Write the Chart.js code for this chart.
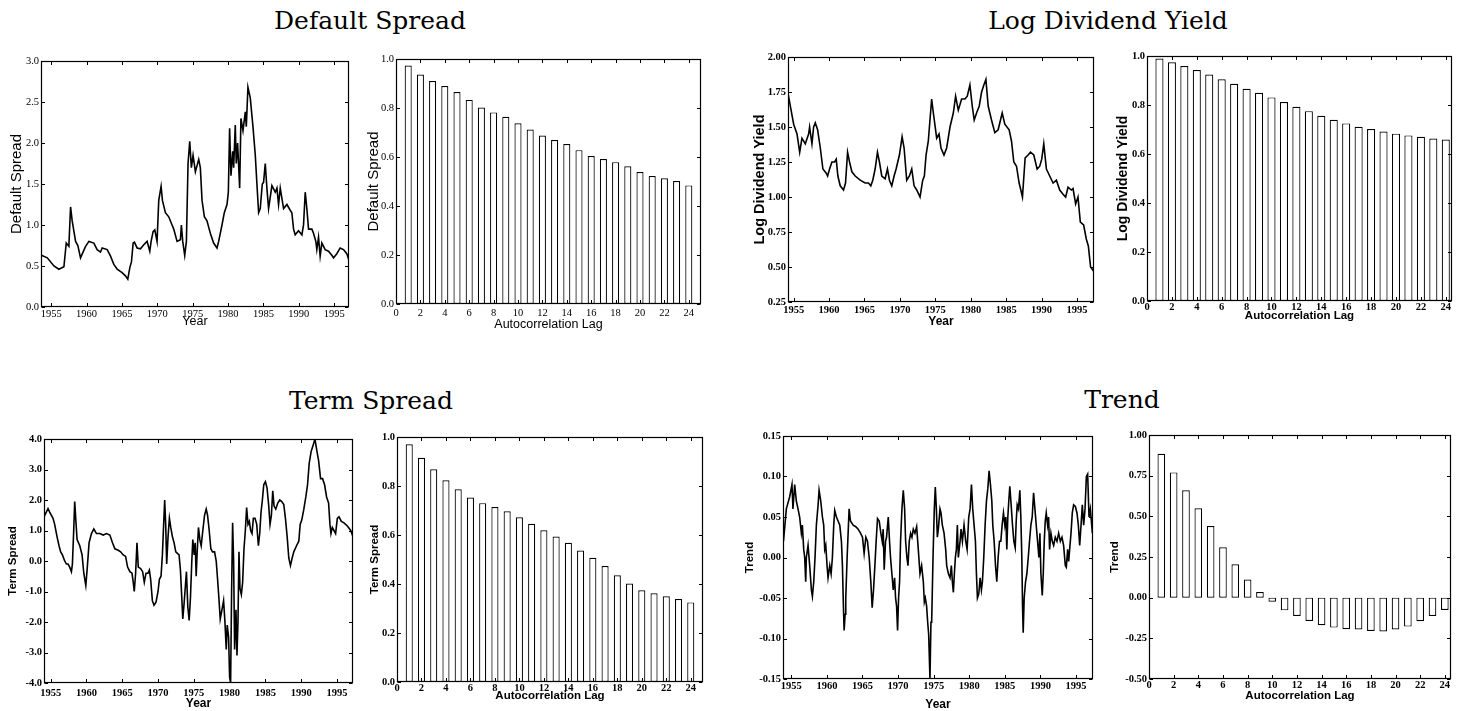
<!DOCTYPE html>
<html><head><meta charset="utf-8">
<script src="https://cdn.jsdelivr.net/npm/chart.js@4/dist/chart.umd.min.js"></script>
<style>
html,body{margin:0;padding:0;background:#fff;width:1460px;height:711px;overflow:hidden;position:relative;}
canvas{position:absolute;}
.ttl{position:absolute;font-family:"DejaVu Serif",serif;font-size:25px;color:#000;transform:translate(-50%,-50%);white-space:nowrap;line-height:1;}
</style></head><body>
<div class="ttl" style="left:370px;top:20px">Default Spread</div>
<div class="ttl" style="left:1108px;top:20px">Log Dividend Yield</div>
<div class="ttl" style="left:371px;top:400px">Term Spread</div>
<div class="ttl" style="left:1122px;top:399px">Trend</div>
<script>
// ---------- DATA ----------
const yearTicks = [1955,1960,1965,1970,1975,1980,1985,1990,1995];
const yearLabels = ['1955','1960','1965','1970','1975','1980','1985','1990','1995'];
const lagTicks = [0,2,4,6,8,10,12,14,16,18,20,22,24];
const lagLabels = ['0','2','4','6','8','10','12','14','16','18','20','22','24'];
const lags = [1,2,3,4,5,6,7,8,9,10,11,12,13,14,15,16,17,18,19,20,21,22,23,24];

const dsYTicks = [0,0.5,1,1.5,2,2.5,3];
const dsYLabels = ['0.0','0.5','1.0','1.5','2.0','2.5','3.0'];
const acfYTicks = [0,0.2,0.4,0.6,0.8,1.0];
const acfYLabels = ['0.0','0.2','0.4','0.6','0.8','1.0'];
const ldyYTicks = [0.25,0.5,0.75,1,1.25,1.5,1.75,2];
const ldyYLabels = ['0.25','0.50','0.75','1.00','1.25','1.50','1.75','2.00'];
const tsYTicks = [-4,-3,-2,-1,0,1,2,3,4];
const tsYLabels = ['-4.0','-3.0','-2.0','-1.0','0.0','1.0','2.0','3.0','4.0'];
const trYTicks = [-0.15,-0.1,-0.05,0,0.05,0.1,0.15];
const trYLabels = ['-0.15','-0.10','-0.05','0.00','0.05','0.10','0.15'];
const trAcfYTicks = [-0.5,-0.25,0,0.25,0.5,0.75,1];
const trAcfYLabels = ['-0.50','-0.25','0.00','0.25','0.50','0.75','1.00'];

const defaultSpreadSeries = [[1953.6,0.63],[1954.44,0.60],[1955.38,0.50],[1956.08,0.46],[1956.79,0.49],[1957.12,0.78],[1957.49,0.74],[1957.73,1.22],[1957.96,1.05],[1958.44,0.80],[1958.76,0.75],[1959.14,0.60],[1959.85,0.74],[1960.32,0.80],[1961.02,0.78],[1961.49,0.70],[1961.96,0.67],[1962.2,0.72],[1962.91,0.70],[1963.38,0.62],[1963.85,0.52],[1964.32,0.46],[1965.02,0.42],[1965.49,0.38],[1965.82,0.34],[1966.11,0.48],[1966.34,0.55],[1966.58,0.78],[1966.76,0.79],[1967.14,0.72],[1967.61,0.71],[1968.08,0.76],[1968.55,0.80],[1968.93,0.68],[1969.12,0.80],[1969.4,0.92],[1969.64,0.94],[1969.96,0.80],[1970.2,1.30],[1970.53,1.47],[1970.72,1.30],[1971.14,1.15],[1971.61,1.10],[1972.08,1.00],[1972.32,0.95],[1972.79,0.80],[1973.26,0.82],[1973.4,1.00],[1973.59,0.80],[1973.87,0.63],[1974.11,0.80],[1974.34,1.75],[1974.58,2.02],[1974.81,1.70],[1975.05,1.85],[1975.38,1.65],[1975.85,1.80],[1976.08,1.70],[1976.32,1.30],[1976.65,1.10],[1977.02,1.05],[1977.49,0.90],[1977.96,0.78],[1978.44,0.72],[1978.67,0.80],[1979.14,1.00],[1979.47,1.15],[1979.85,1.25],[1980.04,1.40],[1980.22,2.18],[1980.41,1.60],[1980.65,1.90],[1980.79,1.70],[1981.02,2.22],[1981.16,1.75],[1981.35,2.00],[1981.64,1.45],[1981.82,2.30],[1982.11,2.15],[1982.44,2.38],[1982.58,2.20],[1982.81,2.68],[1983.14,2.55],[1983.52,2.20],[1983.85,1.85],[1984.08,1.50],[1984.32,1.15],[1984.55,1.20],[1984.84,1.50],[1985.02,1.52],[1985.26,1.75],[1985.49,1.45],[1985.73,1.20],[1986.2,1.48],[1986.67,1.40],[1986.91,1.45],[1987.14,1.25],[1987.38,1.45],[1987.85,1.20],[1988.32,1.25],[1988.79,1.18],[1989.02,1.15],[1989.26,0.95],[1989.49,0.88],[1989.96,0.93],[1990.44,0.88],[1990.67,1.00],[1990.91,1.40],[1991.14,1.20],[1991.38,0.95],[1991.85,0.95],[1992.08,0.90],[1992.41,0.80],[1992.55,0.70],[1992.79,0.85],[1993.02,0.62],[1993.26,0.78],[1993.73,0.70],[1994.2,0.68],[1994.67,0.63],[1994.91,0.60],[1995.38,0.65],[1995.85,0.72],[1996.32,0.70],[1996.79,0.65],[1997.1,0.57]];

const logDividendYieldSeries = [[1954.2,1.74],[1955.0,1.52],[1955.47,1.45],[1955.85,1.32],[1956.17,1.42],[1956.64,1.38],[1957.11,1.45],[1957.25,1.50],[1957.58,1.38],[1957.82,1.50],[1958.05,1.53],[1958.38,1.48],[1958.76,1.35],[1959.13,1.20],[1959.6,1.17],[1959.79,1.15],[1960.07,1.20],[1960.4,1.25],[1960.77,1.25],[1961.01,1.27],[1961.24,1.15],[1961.57,1.08],[1962.04,1.05],[1962.32,1.10],[1962.61,1.32],[1962.89,1.25],[1963.22,1.18],[1963.69,1.15],[1964.39,1.12],[1965.09,1.10],[1965.56,1.10],[1965.89,1.08],[1966.17,1.12],[1966.5,1.20],[1966.83,1.32],[1967.11,1.25],[1967.44,1.15],[1967.91,1.13],[1968.24,1.20],[1968.52,1.12],[1968.85,1.08],[1969.18,1.15],[1969.46,1.20],[1969.93,1.30],[1970.31,1.43],[1970.59,1.35],[1970.96,1.12],[1971.34,1.15],[1971.67,1.20],[1972.0,1.08],[1972.37,1.05],[1972.84,1.00],[1973.22,1.12],[1973.45,1.15],[1973.69,1.30],[1974.01,1.40],[1974.48,1.70],[1974.72,1.60],[1975.19,1.42],[1975.52,1.45],[1975.8,1.35],[1976.22,1.30],[1976.6,1.35],[1977.07,1.50],[1977.54,1.60],[1977.86,1.72],[1978.24,1.62],[1978.71,1.70],[1979.18,1.70],[1979.51,1.72],[1979.88,1.80],[1980.21,1.65],[1980.49,1.55],[1980.82,1.60],[1981.2,1.65],[1981.53,1.75],[1981.85,1.80],[1982.14,1.84],[1982.46,1.65],[1982.93,1.55],[1983.4,1.46],[1983.87,1.48],[1984.2,1.55],[1984.44,1.60],[1984.81,1.52],[1985.42,1.48],[1985.75,1.40],[1986.08,1.25],[1986.46,1.22],[1986.83,1.10],[1987.07,1.05],[1987.3,1.00],[1987.68,1.28],[1988.1,1.30],[1988.43,1.32],[1988.9,1.30],[1989.37,1.20],[1989.74,1.22],[1990.02,1.27],[1990.31,1.38],[1990.68,1.20],[1991.15,1.15],[1991.62,1.10],[1992.09,1.12],[1992.56,1.05],[1993.03,1.02],[1993.4,1.00],[1993.73,1.07],[1994.2,1.05],[1994.44,1.06],[1994.81,0.95],[1995.14,1.00],[1995.47,0.82],[1995.94,0.80],[1996.31,0.70],[1996.6,0.65],[1996.92,0.50],[1997.35,0.47]];

const termSpreadSeries = [[1954.07,1.45],[1954.63,1.72],[1954.86,1.60],[1955.33,1.40],[1955.56,1.20],[1955.89,0.80],[1956.17,0.50],[1956.40,0.30],[1956.64,0.20],[1956.96,0.00],[1957.20,-0.10],[1957.43,-0.10],[1957.66,-0.20],[1957.90,-0.35],[1958.04,-0.10],[1958.22,1.00],[1958.36,1.95],[1958.50,1.40],[1958.69,0.70],[1959.07,0.50],[1959.39,0.20],[1959.63,-0.40],[1959.91,-0.80],[1960.09,-0.30],[1960.37,0.60],[1960.70,0.90],[1961.03,1.05],[1961.40,0.90],[1961.87,0.90],[1962.34,0.85],[1962.80,0.90],[1963.27,0.85],[1963.64,0.60],[1963.97,0.40],[1964.44,0.35],[1964.77,0.30],[1965.14,0.20],[1965.47,0.15],[1965.75,-0.20],[1966.07,-0.35],[1966.36,-0.40],[1966.54,-0.70],[1966.68,-1.00],[1966.87,-0.40],[1967.06,0.60],[1967.24,-0.20],[1967.57,-0.25],[1967.85,-0.35],[1968.08,-0.70],[1968.32,-0.40],[1968.60,-0.40],[1968.79,-0.30],[1968.97,-0.60],[1969.21,-1.30],[1969.44,-1.45],[1969.72,-1.35],[1970.00,-1.00],[1970.19,-0.60],[1970.42,-0.50],[1970.61,0.20],[1970.75,1.00],[1970.93,2.00],[1971.07,1.20],[1971.21,-0.10],[1971.40,0.80],[1971.59,1.40],[1971.78,1.10],[1972.01,0.80],[1972.24,0.60],[1972.48,0.30],[1972.71,0.25],[1972.94,0.20],[1973.13,-0.30],[1973.32,-1.20],[1973.46,-1.90],[1973.64,-1.40],[1973.83,-0.80],[1973.97,-0.35],[1974.16,-1.50],[1974.35,-1.95],[1974.53,-1.20],[1974.72,0.00],[1974.86,0.70],[1975.05,0.20],[1975.19,0.60],[1975.33,-0.50],[1975.47,0.30],[1975.65,1.10],[1975.84,0.70],[1976.03,0.50],[1976.26,1.00],[1976.50,1.50],[1976.73,1.70],[1976.92,1.50],[1977.15,1.00],[1977.38,0.40],[1977.62,0.30],[1977.90,0.30],[1978.13,0.00],[1978.32,-0.60],[1978.50,-1.20],[1978.69,-1.90],[1978.93,-1.60],[1979.16,-1.30],[1979.35,-2.00],[1979.53,-2.90],[1979.67,-2.10],[1979.86,-2.50],[1980.00,-3.80],[1980.14,-4.00],[1980.28,-1.00],[1980.42,1.25],[1980.56,0.00],[1980.70,-2.90],[1980.89,-1.60],[1981.03,-3.10],[1981.17,-2.00],[1981.31,0.30],[1981.45,-0.90],[1981.64,-1.10],[1981.82,-0.70],[1982.01,0.40],[1982.20,1.00],[1982.38,1.75],[1982.57,1.20],[1982.76,1.30],[1982.94,1.00],[1983.13,0.90],[1983.32,1.40],[1983.55,1.40],[1983.79,1.20],[1984.02,0.50],[1984.21,0.90],[1984.39,1.60],[1984.58,2.00],[1984.77,2.50],[1985.00,2.60],[1985.23,2.40],[1985.47,1.80],[1985.65,1.20],[1985.84,1.50],[1986.03,2.30],[1986.21,1.80],[1986.45,1.70],[1986.73,1.90],[1987.01,2.00],[1987.29,1.95],[1987.57,1.85],[1987.80,1.40],[1988.04,0.80],[1988.27,0.10],[1988.50,-0.15],[1988.74,0.10],[1988.97,0.30],[1989.35,0.50],[1989.67,0.65],[1989.86,1.20],[1990.09,1.35],[1990.37,1.70],[1990.65,2.10],[1990.89,2.50],[1991.12,3.20],[1991.40,3.60],[1991.68,3.80],[1991.92,4.00],[1992.20,3.60],[1992.43,3.30],[1992.71,2.70],[1992.99,2.70],[1993.27,2.50],[1993.55,2.10],[1993.83,1.90],[1994.02,1.20],[1994.16,0.90],[1994.35,1.10],[1994.58,1.00],[1994.81,0.90],[1995.05,1.40],[1995.28,1.45],[1995.61,1.30],[1995.98,1.25],[1996.45,1.15],[1996.92,1.00],[1997.24,0.80]];

const trendSeries = [[1953.9,0.02],[1954.30,0.06],[1954.77,0.075],[1955.09,0.09],[1955.23,0.06],[1955.47,0.09],[1955.70,0.07],[1955.94,0.06],[1956.17,0.05],[1956.41,0.03],[1956.55,0.04],[1956.74,0.01],[1956.88,0.00],[1957.02,-0.03],[1957.11,0.00],[1957.35,0.015],[1957.58,-0.01],[1957.82,-0.04],[1957.96,-0.048],[1958.15,-0.03],[1958.33,0.00],[1958.52,0.04],[1958.76,0.065],[1958.90,0.083],[1959.13,0.07],[1959.37,0.05],[1959.55,0.04],[1959.69,0.01],[1959.84,0.015],[1960.02,-0.01],[1960.16,-0.025],[1960.40,-0.01],[1960.59,-0.02],[1960.77,0.00],[1960.96,0.04],[1961.10,0.058],[1961.34,0.05],[1961.57,0.045],[1961.81,0.04],[1962.04,0.02],[1962.18,-0.01],[1962.32,-0.06],[1962.42,-0.09],[1962.56,-0.07],[1962.65,-0.05],[1962.84,0.00],[1962.98,0.03],[1963.12,0.06],[1963.31,0.045],[1963.69,0.04],[1964.06,0.038],[1964.39,0.035],[1964.72,0.03],[1965.00,0.025],[1965.23,0.005],[1965.47,0.025],[1965.70,0.02],[1965.94,0.00],[1966.17,-0.03],[1966.36,-0.062],[1966.55,-0.04],[1966.74,-0.01],[1966.92,0.02],[1967.11,0.048],[1967.35,0.045],[1967.58,0.03],[1967.77,0.02],[1967.91,0.035],[1968.05,-0.015],[1968.24,0.02],[1968.38,0.025],[1968.62,0.05],[1968.80,0.02],[1968.94,0.00],[1969.13,-0.02],[1969.32,-0.04],[1969.51,-0.025],[1969.65,-0.05],[1969.79,-0.06],[1969.93,-0.09],[1970.07,-0.05],[1970.21,-0.03],[1970.35,0.02],[1970.54,0.06],[1970.73,0.083],[1970.92,0.06],[1971.06,0.02],[1971.24,0.00],[1971.39,-0.01],[1971.57,0.02],[1971.76,0.03],[1971.95,0.025],[1972.14,0.035],[1972.37,0.03],[1972.61,0.038],[1972.84,0.01],[1973.08,-0.02],[1973.31,-0.01],[1973.55,-0.03],[1973.69,-0.055],[1973.83,-0.05],[1974.01,-0.06],[1974.16,-0.08],[1974.30,-0.095],[1974.48,-0.15],[1974.62,-0.08],[1974.72,-0.08],[1974.91,0.00],[1975.09,0.06],[1975.23,0.087],[1975.38,0.06],[1975.52,0.025],[1975.66,0.035],[1975.89,0.06],[1976.03,0.055],[1976.22,0.04],[1976.46,0.03],[1976.69,0.01],[1976.83,-0.01],[1977.07,-0.02],[1977.30,-0.025],[1977.49,-0.01],[1977.63,-0.03],[1977.77,-0.043],[1977.91,-0.02],[1978.05,0.00],[1978.19,0.01],[1978.33,0.04],[1978.47,0.00],[1978.71,0.02],[1978.85,0.035],[1979.04,0.02],[1979.27,0.04],[1979.51,0.02],[1979.70,0.01],[1979.93,0.05],[1980.12,0.06],[1980.31,0.09],[1980.49,0.06],[1980.68,0.04],[1980.87,0.02],[1981.01,-0.02],[1981.15,-0.05],[1981.34,-0.045],[1981.53,-0.025],[1981.71,-0.04],[1981.85,-0.03],[1982.04,0.00],[1982.23,0.04],[1982.42,0.07],[1982.61,0.085],[1982.79,0.107],[1982.98,0.09],[1983.17,0.07],[1983.31,0.04],[1983.50,0.02],[1983.69,-0.01],[1983.87,-0.03],[1984.06,0.00],[1984.25,0.02],[1984.44,0.02],[1984.62,0.04],[1984.81,0.055],[1985.00,0.04],[1985.14,0.05],[1985.28,0.01],[1985.42,0.05],[1985.56,0.07],[1985.70,0.088],[1985.89,0.065],[1986.08,0.04],[1986.27,0.02],[1986.46,0.012],[1986.60,0.045],[1986.74,0.065],[1986.92,0.06],[1987.11,0.083],[1987.25,0.05],[1987.39,0.00],[1987.49,-0.06],[1987.58,-0.093],[1987.72,-0.05],[1987.91,-0.03],[1988.10,-0.02],[1988.29,0.00],[1988.47,0.02],[1988.66,0.04],[1988.85,0.05],[1989.04,0.08],[1989.23,0.06],[1989.41,0.04],[1989.60,0.02],[1989.79,0.00],[1989.93,0.03],[1990.07,-0.02],[1990.26,-0.047],[1990.40,-0.02],[1990.54,0.02],[1990.68,0.045],[1990.82,0.055],[1991.01,0.04],[1991.15,0.05],[1991.29,0.01],[1991.48,0.03],[1991.67,0.02],[1991.86,0.015],[1992.09,0.025],[1992.33,0.02],[1992.56,0.03],[1992.80,0.02],[1993.03,0.025],[1993.26,0.015],[1993.50,-0.01],[1993.64,-0.012],[1993.83,0.01],[1993.97,-0.005],[1994.11,0.01],[1994.30,0.03],[1994.48,0.055],[1994.67,0.065],[1994.91,0.063],[1995.14,0.055],[1995.33,0.04],[1995.52,0.015],[1995.71,0.04],[1995.89,0.065],[1996.08,0.04],[1996.27,0.06],[1996.46,0.10],[1996.64,0.103],[1996.83,0.05],[1997.02,0.06],[1997.3,0.03]];

const defaultSpreadAcf = [0.973,0.937,0.910,0.890,0.865,0.833,0.802,0.782,0.764,0.738,0.712,0.688,0.669,0.653,0.628,0.604,0.592,0.579,0.562,0.539,0.522,0.513,0.502,0.484];
const logDividendYieldAcf = [0.990,0.974,0.959,0.943,0.924,0.905,0.887,0.866,0.850,0.831,0.812,0.793,0.775,0.756,0.740,0.725,0.711,0.702,0.692,0.683,0.676,0.670,0.663,0.659];
const termSpreadAcf = [0.970,0.915,0.868,0.823,0.787,0.753,0.730,0.714,0.697,0.672,0.646,0.619,0.594,0.568,0.537,0.507,0.473,0.436,0.402,0.374,0.362,0.350,0.339,0.325];
const trendAcf = [0.885,0.770,0.660,0.550,0.440,0.310,0.205,0.112,0.035,-0.025,-0.078,-0.112,-0.143,-0.170,-0.184,-0.194,-0.196,-0.205,-0.208,-0.196,-0.178,-0.145,-0.112,-0.076];

// ---------- RENDERING ----------
const framePlugin = {
  id: 'frame',
  afterDatasetsDraw(chart) {
    const {ctx, chartArea: a, scales} = chart;
    const x = scales.x, y = scales.y;
    const l = Math.round(a.left) + 0.5, r = Math.round(a.right) - 0.5;
    const t = Math.round(a.top) + 0.5, b = Math.round(a.bottom) - 0.5;
    ctx.save();
    ctx.strokeStyle = '#000';
    ctx.lineWidth = 1.2;
    ctx.strokeRect(l, t, r - l, b - t);
    ctx.lineWidth = 1;
    ctx.beginPath();
    const tl = 3.5;
    x.ticks.forEach(tk => {
      const px = Math.round(x.getPixelForValue(tk.value)) + 0.5;
      ctx.moveTo(px, b); ctx.lineTo(px, b - tl);
      ctx.moveTo(px, t); ctx.lineTo(px, t + tl);
    });
    y.ticks.forEach(tk => {
      const py = Math.round(y.getPixelForValue(tk.value)) + 0.5;
      ctx.moveTo(l, py); ctx.lineTo(l + tl, py);
      ctx.moveTo(r, py); ctx.lineTo(r - tl, py);
    });
    ctx.stroke();
    ctx.restore();
  }
};

const panels = [
  {kind:'line', series:defaultSpreadSeries, L:41,T:61,R:349,B:307, xMin:1953.55, xMax:1997.1, xTicks:yearTicks, xLabels:yearLabels,
   yMin:0, yMax:3, yTicks:dsYTicks, yLabels:dsYLabels, yTitle:'Default Spread', xTitle:'Year', YT:17, XT:322, xPad:1, yPad:2, weight:'normal', yts:15, xts:12.5},
  {kind:'bar', values:defaultSpreadAcf, L:396,T:59,R:701,B:304, xMin:0, xMax:25, xTicks:lagTicks, xLabels:lagLabels, barPct:0.58,
   yMin:0, yMax:1, yTicks:acfYTicks, yLabels:acfYLabels, yTitle:'Default Spread', xTitle:'Autocorrelation Lag', YT:374, XT:325, xPad:3, yPad:2, weight:'normal', yts:15, xts:12.5},
  {kind:'line', series:logDividendYieldSeries, L:788,T:57,R:1094,B:302, xMin:1954.2, xMax:1997.4, xTicks:yearTicks, xLabels:yearLabels,
   yMin:0.25, yMax:2, yTicks:ldyYTicks, yLabels:ldyYLabels, yTitle:'Log Dividend Yield', xTitle:'Year', YT:760, XT:322, xPad:2, yPad:2, weight:'bold', yts:14.5, xts:12},
  {kind:'bar', values:logDividendYieldAcf, L:1147,T:56,R:1452,B:301, xMin:0, xMax:24.5, xTicks:lagTicks, xLabels:lagLabels, barPct:0.65,
   yMin:0, yMax:1, yTicks:acfYTicks, yLabels:acfYLabels, yTitle:'Log Dividend Yield', xTitle:'Autocorrelation Lag', YT:1123, XT:316, xPad:0, yPad:2, weight:'bold', yts:14, xts:11.5},
  {kind:'line', series:termSpreadSeries, L:44,T:439,R:353,B:683, xMin:1954.07, xMax:1997.24, xTicks:yearTicks, xLabels:yearLabels,
   yMin:-4, yMax:4, yTicks:tsYTicks, yLabels:tsYLabels, yTitle:'Term Spread', xTitle:'Year', YT:13, XT:704, xPad:4, yPad:2, weight:'bold', yts:11.5, xts:12},
  {kind:'bar', values:termSpreadAcf, L:397,T:437,R:703,B:682, xMin:0, xMax:25, xTicks:lagTicks, xLabels:lagLabels, barPct:0.58,
   yMin:0, yMax:1, yTicks:acfYTicks, yLabels:acfYLabels, yTitle:'Term Spread', xTitle:'Autocorrelation Lag', YT:375, XT:696, xPad:0, yPad:2, weight:'bold', yts:11.5, xts:11.5},
  {kind:'line', series:trendSeries, L:783,T:436,R:1093,B:679, xMin:1953.83, xMax:1997.39, xTicks:yearTicks, xLabels:yearLabels,
   yMin:-0.15, yMax:0.15, yTicks:trYTicks, yLabels:trYLabels, yTitle:'Trend', xTitle:'Year', YT:750, XT:705, xPad:1, yPad:2, weight:'bold', yts:11.5, xts:12},
  {kind:'bar', values:trendAcf, L:1149,T:435,R:1451,B:679, xMin:0, xMax:24.5, xTicks:lagTicks, xLabels:lagLabels, barPct:0.62,
   yMin:-0.5, yMax:1, yTicks:trAcfYTicks, yLabels:trAcfYLabels, yTitle:'Trend', xTitle:'Autocorrelation Lag', YT:1115, XT:696, xPad:0, yPad:2, weight:'bold', yts:11.5, xts:11.5}
];

function build(p) {
  const padL = 60, padT = 10, padR = 10, padB = 50;
  const w = p.R - p.L + padL + padR, h = p.B - p.T + padT + padB;
  const cv = document.createElement('canvas');
  cv.width = w; cv.height = h;
  cv.style.left = (p.L - padL) + 'px';
  cv.style.top = (p.T - padT) + 'px';
  cv.style.width = w + 'px'; cv.style.height = h + 'px';
  document.body.appendChild(cv);

  const tickFont = {family:'"Liberation Serif", "Times New Roman", serif', size:10.5, weight:p.weight};
  const yTitleFont = {family:'"Liberation Sans", Arial, sans-serif', size:p.yts, weight:p.weight, lineHeight:1.2};
  const xTitleFont = {family:'"Liberation Sans", Arial, sans-serif', size:p.xts, weight:p.weight, lineHeight:1.2};
  const ylh = p.yts * 1.2, xlh = p.xts * 1.2;

  let dataset;
  if (p.kind === 'line') {
    dataset = {data: p.series.map(d => ({x:d[0], y:d[1]})), borderColor:'#000', borderWidth:1.6,
               pointRadius:0, tension:0, fill:false};
  } else {
    dataset = {data: lags.map((l, i) => ({x:l, y:p.values[i]})), backgroundColor:'#fff', borderColor:'#000',
               borderWidth:1.2, borderSkipped:false, barPercentage:p.barPct, categoryPercentage:1};
  }

  new Chart(cv, {
    type: p.kind,
    data: {datasets:[dataset]},
    options: {
      responsive:false, animation:false, devicePixelRatio:1,
      layout:{padding:{left:0, top:padT, right:padR, bottom:0}},
      plugins:{legend:{display:false}, tooltip:{enabled:false}},
      scales:{
        x:{type:'linear', min:p.xMin, max:p.xMax, offset:false,
           grid:{display:false, drawTicks:false, offset:false}, border:{display:false},
           afterBuildTicks:s => { s.ticks = p.xTicks.map(v => ({value:v})); },
           afterFit:s => { s.height = padB; },
           ticks:{autoSkip:false, maxRotation:0, minRotation:0, padding:p.xPad, color:'#000', font:tickFont,
                  callback:(v, i) => p.xLabels[i]},
           title:{display:true, text:p.xTitle, color:'#000', font:xTitleFont,
                  padding:{top:0, bottom:p.B + padB - xlh / 2 - p.XT}}},
        y:{type:'linear', min:p.yMin, max:p.yMax,
           grid:{display:false, drawTicks:false}, border:{display:false},
           afterBuildTicks:s => { s.ticks = p.yTicks.map(v => ({value:v})); },
           afterFit:s => { s.width = padL; },
           ticks:{autoSkip:false, padding:p.yPad, color:'#000', font:tickFont,
                  callback:(v, i) => p.yLabels[i]},
           title:{display:true, text:p.yTitle, color:'#000', font:yTitleFont,
                  padding:{top:p.YT - (p.L - padL) - ylh / 2, bottom:0}}}
      }
    },
    plugins:[framePlugin]
  });
}
panels.forEach(build);
</script>
</body></html>
